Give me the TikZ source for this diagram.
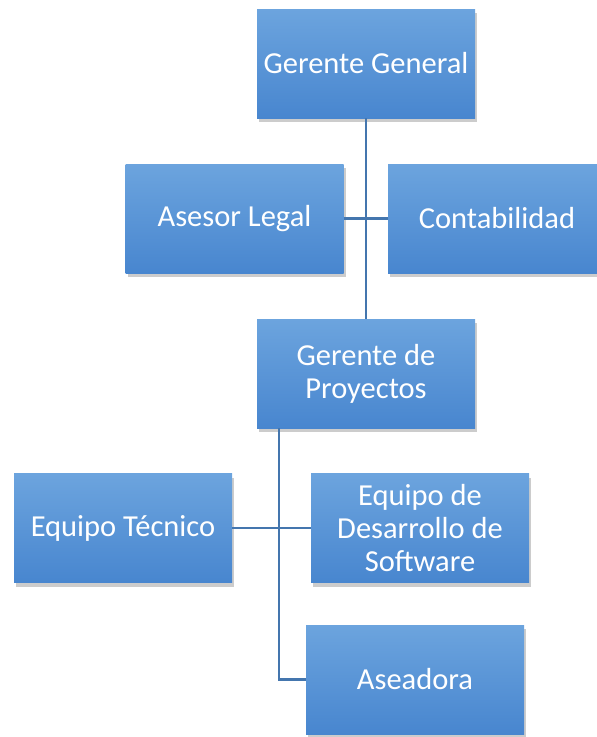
\documentclass[tikz,border=0pt]{standalone}
\usepackage{fontspec}
\setmainfont{Carlito}
\usepackage{tikz}
\usetikzlibrary{shadows}

\definecolor{boxtop}{HTML}{6CA4DE}
\definecolor{boxbottom}{HTML}{4886CF}
\definecolor{linkblue}{HTML}{4476AE}

\begin{document}
\begin{tikzpicture}[x=1pt, y=-1pt,
    puesto/.style={rectangle, minimum width=218pt, minimum height=109pt,
      top color=boxtop, bottom color=boxbottom, text=white, align=center,
      font=\fontsize{30.5}{33}\selectfont, inner sep=2pt,
      drop shadow={shadow xshift=2pt, shadow yshift=-4pt, opacity=0.4}},
    enlace/.style={draw=linkblue, line width=2.2pt}]
    \useasboundingbox (0,0) rectangle (597,737);

    % trunk below Gerente de Proyectos
    \coordinate (tronco) at (279,428);

    % top level
    \node[puesto] (gg) at (366,63.5) {Gerente General};
    \node[puesto] (al) at (234.5,218.5) {Asesor Legal};
    \node[puesto] (ct) at (497,218.5) {Contabilidad};

    % projects
    \node[puesto] (gp) at (366,373.5) {Gerente de\\Proyectos};
    \node[puesto] (et) at (123,528) {Equipo Técnico};
    \node[puesto] (ed) at (420,528) {Equipo de\\Desarrollo de\\Software};
    \node[puesto] (as) at (415,679.5) {Aseadora};

    % lines
    \draw[enlace] (gg) -- (gp);
    \draw[enlace] (al) -- (ct);
    \draw[enlace] (tronco) |- (as.west);
    \draw[enlace] (et) -- (ed);
\end{tikzpicture}
\end{document}
